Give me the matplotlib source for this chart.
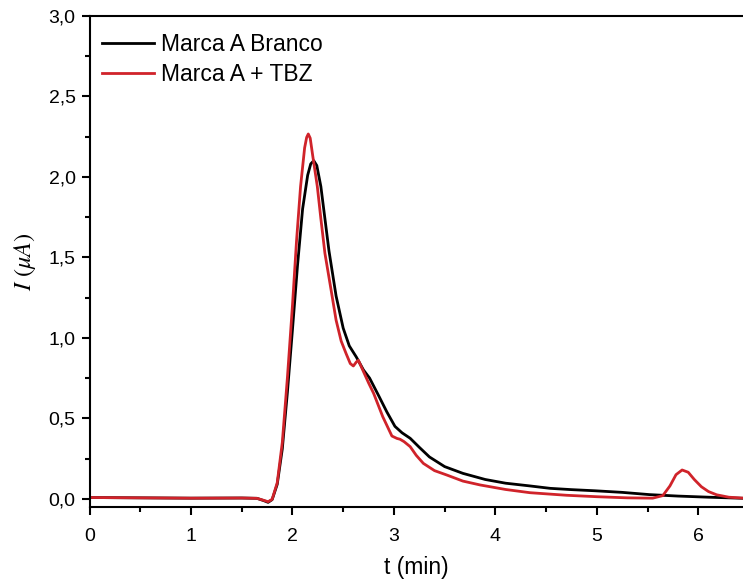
import matplotlib
matplotlib.use("Agg")
import matplotlib.pyplot as plt
from matplotlib.ticker import MultipleLocator, FuncFormatter

plt.rcParams['font.family'] = ['Liberation Sans', 'DejaVu Sans']
plt.rcParams['mathtext.fontset'] = 'stix'

# Marca A Branco (black)
t_black = [0, 0.5, 1.0, 1.5, 1.65, 1.72, 1.76, 1.80, 1.85, 1.90, 1.95, 2.00, 2.05,
           2.10, 2.15, 2.18, 2.21, 2.24, 2.28, 2.32, 2.36, 2.43, 2.50, 2.56, 2.63,
           2.70, 2.76, 2.85, 2.93, 3.01, 3.08, 3.16, 3.25, 3.35, 3.50, 3.68, 3.90,
           4.10, 4.34, 4.54, 4.75, 4.98, 5.25, 5.52, 5.80, 6.10, 6.45]
i_black = [0.008, 0.006, 0.004, 0.005, 0.003, -0.012, -0.022, -0.005, 0.09, 0.31,
           0.66, 1.05, 1.45, 1.80, 2.01, 2.08, 2.10, 2.07, 1.94, 1.74, 1.54, 1.26,
           1.06, 0.95, 0.88, 0.80, 0.75, 0.64, 0.54, 0.45, 0.41, 0.376, 0.32, 0.26,
           0.20, 0.158, 0.12, 0.097, 0.08, 0.065, 0.057, 0.05, 0.04, 0.026, 0.017,
           0.01, 0.003]

# Marca A + TBZ (red)
t_red = [0, 0.5, 1.0, 1.5, 1.65, 1.72, 1.76, 1.80, 1.85, 1.90, 1.95, 2.00, 2.04,
         2.08, 2.12, 2.14, 2.156, 2.175, 2.20, 2.245, 2.28, 2.32, 2.38, 2.43, 2.48,
         2.53, 2.57, 2.60, 2.63, 2.65, 2.70, 2.75, 2.80, 2.89, 2.98, 3.03, 3.06,
         3.10, 3.16, 3.22, 3.29, 3.40, 3.52, 3.68, 3.85, 4.10, 4.34, 4.70, 5.00,
         5.30, 5.55, 5.65, 5.72, 5.78, 5.84, 5.90, 5.96, 6.03, 6.10, 6.18, 6.30,
         6.45]
i_red = [0.008, 0.006, 0.004, 0.005, 0.003, -0.01, -0.018, -0.003, 0.1, 0.35,
         0.75, 1.2, 1.6, 1.94, 2.18, 2.245, 2.266, 2.24, 2.13, 1.94, 1.74, 1.525,
         1.30, 1.11, 0.98, 0.90, 0.84, 0.825, 0.85, 0.86, 0.79, 0.72, 0.655, 0.51,
         0.39, 0.375, 0.37, 0.355, 0.324, 0.27, 0.22, 0.175, 0.148, 0.11, 0.086,
         0.058, 0.038, 0.022, 0.013, 0.006, 0.004, 0.02, 0.08, 0.15, 0.179, 0.165,
         0.12, 0.075, 0.045, 0.025, 0.01, 0.004]

labels = ["Marca A Branco", "Marca A + TBZ"]

fig = plt.figure(figsize=(7.43, 5.83), dpi=100)
ax = fig.add_axes([89.5 / 743, 76.3 / 583, 1 - 89.5 / 743, (506.7 - 15.8) / 583])

ax.plot(t_black, i_black, color='black', lw=2.0, label=labels[0])
ax.plot(t_red, i_red, color='#d0232a', lw=2.0, label=labels[1])

ax.set_xlim(0, 6.44)
ax.set_ylim(-0.049, 3.0)

ax.xaxis.set_major_locator(MultipleLocator(1))
ax.xaxis.set_minor_locator(MultipleLocator(0.5))
ax.yaxis.set_major_locator(MultipleLocator(0.5))
ax.yaxis.set_minor_locator(MultipleLocator(0.25))
ax.yaxis.set_major_formatter(FuncFormatter(lambda v, p: f"{v:.1f}".replace('.', ',')))
ax.xaxis.set_major_formatter(FuncFormatter(lambda v, p: f"{v:.0f}"))

ax.spines['right'].set_visible(False)
for s in ['left', 'bottom', 'top']:
    ax.spines[s].set_linewidth(1.5)
ax.tick_params(which='major', direction='out', length=6, width=1.5, labelsize=14,
               top=False, right=False)
ax.tick_params(axis='y', which='major', pad=4)
ax.tick_params(axis='x', which='major', pad=9)
ax.tick_params(which='minor', direction='out', length=3.6, width=1.5, top=False, right=False)

ax.set_xlabel("t (min)", fontsize=16.5, labelpad=8)
ax.set_ylabel(r"$I\ (\mu A)$", fontsize=17.5, labelpad=8)

ax.legend(loc='upper left', bbox_to_anchor=(0.0187, 0.964), frameon=False,
          fontsize=16.5, handlelength=2.3, handletextpad=0.3, labelspacing=0.3,
          borderaxespad=0, borderpad=0)

fig.savefig("out.png", dpi=100)
